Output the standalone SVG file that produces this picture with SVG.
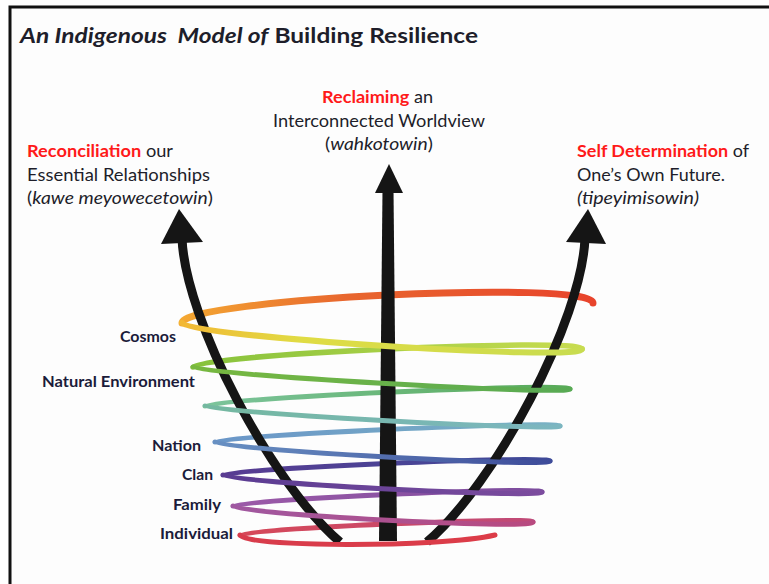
<svg xmlns="http://www.w3.org/2000/svg" width="769" height="584" viewBox="0 0 769 584">
<style>
  .t{font-family:Lato,"Liberation Sans",sans-serif;fill:#1e1e2a}
  .hdr{font-size:17.5px}
  .red{fill:#ff1a1a;font-weight:bold}
  .lvl{font-family:Lato,"Liberation Sans",sans-serif;font-size:15px;font-weight:bold;fill:#1b1b3a;text-anchor:end}
  .ring{fill:none;stroke-linecap:round}
  .shaft{fill:none;stroke:#151515;stroke-width:9}
  .head{fill:#151515}
</style>
<defs>
  <linearGradient id="g1u" gradientUnits="userSpaceOnUse" x1="593" y1="0" x2="182" y2="0"><stop offset="0" stop-color="#e8442c"/><stop offset="0.6" stop-color="#e8662e"/><stop offset="1" stop-color="#f4a832"/></linearGradient>
  <linearGradient id="g1d" gradientUnits="userSpaceOnUse" x1="182" y1="0" x2="582" y2="0"><stop offset="0" stop-color="#f2b834"/><stop offset="0.3" stop-color="#e0dc44"/><stop offset="1" stop-color="#c8dc50"/></linearGradient>
  <linearGradient id="g2u" gradientUnits="userSpaceOnUse" x1="582" y1="0" x2="193" y2="0"><stop offset="0" stop-color="#c8dc50"/><stop offset="1" stop-color="#86c23c"/></linearGradient>
  <linearGradient id="g2d" gradientUnits="userSpaceOnUse" x1="193" y1="0" x2="570" y2="0"><stop offset="0" stop-color="#78b840"/><stop offset="1" stop-color="#58aa54"/></linearGradient>
  <linearGradient id="g3u" gradientUnits="userSpaceOnUse" x1="570" y1="0" x2="205" y2="0"><stop offset="0" stop-color="#58aa58"/><stop offset="1" stop-color="#7cc49c"/></linearGradient>
  <linearGradient id="g3d" gradientUnits="userSpaceOnUse" x1="205" y1="0" x2="560" y2="0"><stop offset="0" stop-color="#74b8a0"/><stop offset="1" stop-color="#7cb6c0"/></linearGradient>
  <linearGradient id="g4u" gradientUnits="userSpaceOnUse" x1="560" y1="0" x2="215" y2="0"><stop offset="0" stop-color="#7ab2c4"/><stop offset="1" stop-color="#6a96c8"/></linearGradient>
  <linearGradient id="g4d" gradientUnits="userSpaceOnUse" x1="215" y1="0" x2="550" y2="0"><stop offset="0" stop-color="#6890c2"/><stop offset="1" stop-color="#3e4c9a"/></linearGradient>
  <linearGradient id="g5u" gradientUnits="userSpaceOnUse" x1="550" y1="0" x2="223" y2="0"><stop offset="0" stop-color="#3e4a98"/><stop offset="1" stop-color="#583c92"/></linearGradient>
  <linearGradient id="g5d" gradientUnits="userSpaceOnUse" x1="223" y1="0" x2="542" y2="0"><stop offset="0" stop-color="#5a3c92"/><stop offset="1" stop-color="#7c4c9e"/></linearGradient>
  <linearGradient id="g6u" gradientUnits="userSpaceOnUse" x1="542" y1="0" x2="233" y2="0"><stop offset="0" stop-color="#7c4c9e"/><stop offset="1" stop-color="#9c5aa8"/></linearGradient>
  <linearGradient id="g6d" gradientUnits="userSpaceOnUse" x1="233" y1="0" x2="533" y2="0"><stop offset="0" stop-color="#a058a0"/><stop offset="1" stop-color="#b84a80"/></linearGradient>
  <linearGradient id="g7u" gradientUnits="userSpaceOnUse" x1="533" y1="0" x2="240" y2="0"><stop offset="0" stop-color="#c04a78"/><stop offset="1" stop-color="#d64858"/></linearGradient>
  <linearGradient id="g7d" gradientUnits="userSpaceOnUse" x1="240" y1="0" x2="495" y2="0"><stop offset="0" stop-color="#d83c4c"/><stop offset="1" stop-color="#dc3c48"/></linearGradient>
</defs>
<rect x="0" y="0" width="769" height="584" fill="#ffffff"/>
<rect x="10" y="7" width="759" height="577" fill="#fdfdfd"/>
<path d="M10,584 V7 H769" fill="none" stroke="#111" stroke-width="3"/>

<g id="title">
  <text class="t" x="20" y="43" font-size="21.5" font-weight="bold" fill="#111" xml:space="preserve" textLength="458" lengthAdjust="spacingAndGlyphs"><tspan font-style="italic">An Indigenous  Model of</tspan> Building Resilience</text>
</g>

<!-- back halves of the spiral -->
<g id="spiral-back">
  <path class="ring" stroke="url(#g1u)" stroke-width="7" d="M593,303 C593,279 182,299 182,323"/>
  <path class="ring" stroke="url(#g2u)" stroke-width="5.5" d="M582,349 C582,337 193,355 193,367"/>
  <path class="ring" stroke="url(#g3u)" stroke-width="5" d="M570,389 C570,382 205,399 205,406"/>
  <path class="ring" stroke="url(#g4u)" stroke-width="5" d="M560,426 C560,420 215,436 215,442"/>
  <path class="ring" stroke="url(#g5u)" stroke-width="5" d="M550,461 C550,455 223,469 223,475"/>
  <path class="ring" stroke="url(#g6u)" stroke-width="5" d="M542,492 C542,486 233,500 233,506"/>
  <path class="ring" stroke="url(#g7u)" stroke-width="5" d="M533,522 C533,516 240,529 240,535"/>
</g>

<g id="connectors">
  <g id="arrow-left">
    <path class="shaft" d="M340,542 C272,484 185,320 182,238"/>
    <polygon class="head" points="179,209 203,242 161,244"/>
  </g>
  <g id="arrow-middle">
    <polygon class="head" points="382.5,190 393.5,190 397,541 379,541"/>
    <polygon class="head" points="389,164 403,193 375,193"/>
  </g>
  <g id="arrow-right">
    <path class="shaft" d="M427,542 C495,484 582,320 585,238"/>
    <polygon class="head" points="588,209 606,244 566,242"/>
  </g>
</g>

<!-- front halves of the spiral -->
<g id="spiral-front">
  <path class="ring" stroke="url(#g1d)" stroke-width="6" d="M182,323 C182,336 582,362 582,349"/>
  <path class="ring" stroke="url(#g2d)" stroke-width="5" d="M193,367 C193,374 570,396 570,389"/>
  <path class="ring" stroke="url(#g3d)" stroke-width="5" d="M205,406 C205,412 560,432 560,426"/>
  <path class="ring" stroke="url(#g4d)" stroke-width="5" d="M215,442 C215,449 550,468 550,461"/>
  <path class="ring" stroke="url(#g5d)" stroke-width="5" d="M223,475 C223,482 542,499 542,492"/>
  <path class="ring" stroke="url(#g6d)" stroke-width="5" d="M233,506 C233,514 533,530 533,522"/>
  <path class="ring" stroke="url(#g7d)" stroke-width="5" d="M240,535 C240,547 440,548 495,535"/>
</g>

<g id="label-middle">
  <text class="t hdr" x="322" y="103" textLength="111" lengthAdjust="spacingAndGlyphs"><tspan class="red">Reclaiming</tspan> an</text>
  <text class="t hdr" x="273" y="127" textLength="212" lengthAdjust="spacingAndGlyphs">Interconnected Worldview</text>
  <text class="t hdr" x="325" y="150" textLength="108" lengthAdjust="spacingAndGlyphs">(<tspan font-style="italic">wahkotowin</tspan>)</text>
</g>
<g id="label-left">
  <text class="t hdr" x="27" y="157" textLength="146" lengthAdjust="spacingAndGlyphs"><tspan class="red">Reconciliation</tspan> our</text>
  <text class="t hdr" x="27" y="181" textLength="183" lengthAdjust="spacingAndGlyphs">Essential Relationships</text>
  <text class="t hdr" x="27" y="204" textLength="186" lengthAdjust="spacingAndGlyphs">(<tspan font-style="italic">kawe meyowecetowin</tspan>)</text>
</g>
<g id="label-right">
  <text class="t hdr" x="577" y="157" textLength="172" lengthAdjust="spacingAndGlyphs"><tspan class="red">Self Determination</tspan> of</text>
  <text class="t hdr" x="577" y="181" textLength="148" lengthAdjust="spacingAndGlyphs">One’s Own Future.</text>
  <text class="t hdr" x="577" y="204" font-style="italic" textLength="122" lengthAdjust="spacingAndGlyphs">(tipeyimisowin)</text>
</g>

<g id="levels">
  <g id="cosmos"><text class="lvl" x="176" y="342" textLength="56" lengthAdjust="spacingAndGlyphs">Cosmos</text></g>
  <g id="natural-environment"><text class="lvl" x="195" y="387" textLength="153" lengthAdjust="spacingAndGlyphs">Natural Environment</text></g>
  <g id="nation"><text class="lvl" x="201" y="451" textLength="49" lengthAdjust="spacingAndGlyphs">Nation</text></g>
  <g id="clan"><text class="lvl" x="213" y="480" textLength="31" lengthAdjust="spacingAndGlyphs">Clan</text></g>
  <g id="family"><text class="lvl" x="221" y="510" textLength="48" lengthAdjust="spacingAndGlyphs">Family</text></g>
  <g id="individual"><text class="lvl" x="233" y="539" textLength="73" lengthAdjust="spacingAndGlyphs">Individual</text></g>
</g>
</svg>
